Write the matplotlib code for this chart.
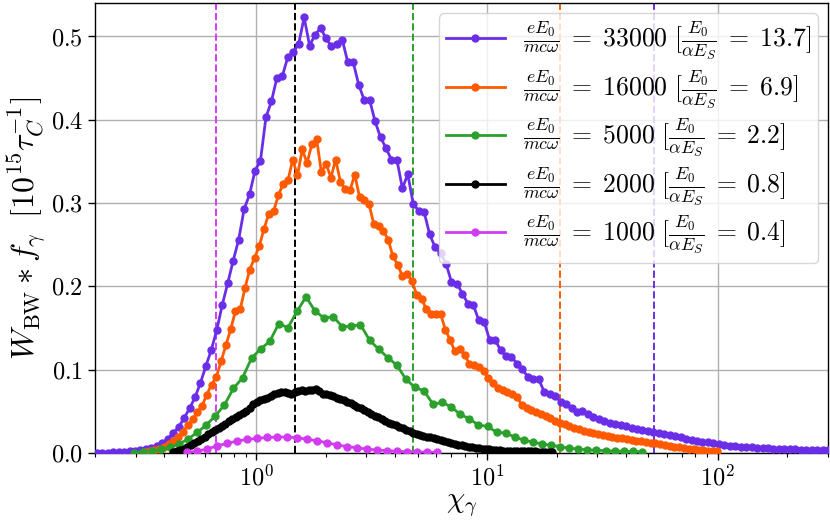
import numpy as np
import matplotlib
matplotlib.use("Agg")
import matplotlib.pyplot as plt

plt.rcParams['mathtext.fontset'] = 'cm'
plt.rcParams['font.family'] = 'serif'
plt.rcParams['font.serif'] = ['cmr10', 'DejaVu Serif']
plt.rcParams['axes.formatter.use_mathtext'] = True

# ---- data ----
labels = [
    r'$\frac{eE_0}{mc\omega}\;=\;33000\ [\frac{E_0}{\alpha E_S}\;=\;13.7]$',
    r'$\frac{eE_0}{mc\omega}\;=\;16000\ [\frac{E_0}{\alpha E_S}\;=\;6.9]$',
    r'$\frac{eE_0}{mc\omega}\;=\;5000\ [\frac{E_0}{\alpha E_S}\;=\;2.2]$',
    r'$\frac{eE_0}{mc\omega}\;=\;2000\ [\frac{E_0}{\alpha E_S}\;=\;0.8]$',
    r'$\frac{eE_0}{mc\omega}\;=\;1000\ [\frac{E_0}{\alpha E_S}\;=\;0.4]$',
]
colors = ['#6a2ee8', '#ff5a00', '#2ca02c', '#000000', '#d23cf0']

# chi grids (log-spaced bins): (first, last, count)
grid_33000 = (0.2035, 300.2, 135)
grid_16000 = (0.3286, 99.6, 121)
grid_5000 = (0.2939, 46.85, 57)
grid_2000 = (0.437, 19.11, 110)
grid_1000 = (0.501, 6.06, 26)

y_33000 = [
    0.0002, 0.0003, 0.0005, 0.0007, 0.0010, 0.0014, 0.0019, 0.0026, 0.0034, 0.0046,
    0.0060, 0.0085, 0.0122, 0.0170, 0.0240, 0.0310, 0.0420, 0.0535, 0.0668, 0.0843,
    0.1045, 0.1240, 0.1480, 0.1780, 0.2040, 0.2310, 0.2560, 0.2926, 0.3105, 0.3390,
    0.3510, 0.4030, 0.4220, 0.4500, 0.4525, 0.4750, 0.4810, 0.4910, 0.5230, 0.4890,
    0.5020, 0.5100, 0.4980, 0.4880, 0.4910, 0.4960, 0.4690, 0.4690, 0.4420, 0.4240,
    0.4240, 0.3980, 0.3790, 0.3660, 0.3520, 0.3520, 0.3180, 0.3345, 0.2986, 0.2910,
    0.2890, 0.2626, 0.2470, 0.2400, 0.2275, 0.2054, 0.2035, 0.1915, 0.1795, 0.1780,
    0.1595, 0.1575, 0.1355, 0.1360, 0.1235, 0.1163, 0.1155, 0.1075, 0.1004, 0.0915,
    0.0895, 0.0884, 0.0735, 0.0707, 0.0687, 0.0615, 0.0587, 0.0536, 0.0495, 0.0507,
    0.0468, 0.0435, 0.0404, 0.0384, 0.0365, 0.0350, 0.0335, 0.0320, 0.0305, 0.0292,
    0.0280, 0.0265, 0.0252, 0.0240, 0.0226, 0.0214, 0.0201, 0.0188, 0.0174, 0.0160,
    0.0148, 0.0137, 0.0127, 0.0118, 0.0108, 0.0096, 0.0087, 0.0081, 0.0076, 0.0071,
    0.0067, 0.0063, 0.0059, 0.0056, 0.0053, 0.0050, 0.0048, 0.0046, 0.0044, 0.0042,
    0.0040, 0.0039, 0.0038, 0.0037, 0.0036,
]

y_16000 = [
    0.0018, 0.0026, 0.0038, 0.0054, 0.0074, 0.0104, 0.0144, 0.0195, 0.0255, 0.0335,
    0.0407, 0.0487, 0.0567, 0.0703, 0.0823, 0.0915, 0.1103, 0.1295, 0.1487, 0.1703,
    0.1727, 0.1982, 0.2203, 0.2342, 0.2486, 0.2694, 0.2874, 0.2905, 0.3094, 0.3234,
    0.3273, 0.3521, 0.3333, 0.3645, 0.3481, 0.3705, 0.3773, 0.3373, 0.3473, 0.3306,
    0.3521, 0.3253, 0.3174, 0.3153, 0.3342, 0.3073, 0.3034, 0.2986, 0.2746, 0.2725,
    0.2666, 0.2562, 0.2360, 0.2260, 0.2120, 0.2155, 0.2060, 0.1900, 0.1855, 0.1725,
    0.1675, 0.1675, 0.1667, 0.1480, 0.1355, 0.1220, 0.1255, 0.1180, 0.1075, 0.1055,
    0.1035, 0.0987, 0.0896, 0.0836, 0.0776, 0.0755, 0.0735, 0.0715, 0.0675, 0.0575,
    0.0545, 0.0515, 0.0490, 0.0465, 0.0440, 0.0415, 0.0390, 0.0365, 0.0345, 0.0325,
    0.0305, 0.0285, 0.0268, 0.0252, 0.0238, 0.0226, 0.0215, 0.0205, 0.0195, 0.0186,
    0.0176, 0.0166, 0.0157, 0.0148, 0.0140, 0.0132, 0.0124, 0.0116, 0.0107, 0.0098,
    0.0088, 0.0078, 0.0070, 0.0062, 0.0053, 0.0045, 0.0040, 0.0035, 0.0030, 0.0025,
    0.0020,
]

y_5000 = [
    0.0006, 0.0012, 0.0024, 0.0044, 0.0068, 0.0108, 0.0168, 0.0248, 0.0336, 0.0447,
    0.0576, 0.0776, 0.0903, 0.1140, 0.1250, 0.1340, 0.1555, 0.1505, 0.1700, 0.1875,
    0.1703, 0.1620, 0.1637, 0.1515, 0.1525, 0.1540, 0.1355, 0.1247, 0.1147, 0.1055,
    0.0887, 0.0788, 0.0747, 0.0584, 0.0610, 0.0552, 0.0465, 0.0410, 0.0336, 0.0320,
    0.0250, 0.0240, 0.0192, 0.0156, 0.0130, 0.0110, 0.0093, 0.0077, 0.0058, 0.0049,
    0.0038, 0.0035, 0.0029, 0.0025, 0.0021, 0.0019, 0.0016,
]

y_2000 = [
    0.0010, 0.0020, 0.0034, 0.0052, 0.0074, 0.0098, 0.0122, 0.0146, 0.0172, 0.0198,
    0.0224, 0.0250, 0.0276, 0.0302, 0.0328, 0.0354, 0.0380, 0.0406, 0.0430, 0.0456,
    0.0482, 0.0510, 0.0545, 0.0585, 0.0618, 0.0635, 0.0648, 0.0660, 0.0684, 0.0712,
    0.0722, 0.0728, 0.0730, 0.0725, 0.0715, 0.0730, 0.0750, 0.0752, 0.0748, 0.0755,
    0.0762, 0.0775, 0.0740, 0.0712, 0.0705, 0.0700, 0.0690, 0.0660, 0.0652, 0.0640,
    0.0618, 0.0598, 0.0580, 0.0558, 0.0535, 0.0512, 0.0488, 0.0465, 0.0448, 0.0428,
    0.0408, 0.0387, 0.0366, 0.0348, 0.0332, 0.0318, 0.0300, 0.0280, 0.0260, 0.0245,
    0.0230, 0.0217, 0.0207, 0.0197, 0.0187, 0.0176, 0.0165, 0.0155, 0.0145, 0.0135,
    0.0122, 0.0110, 0.0100, 0.0092, 0.0085, 0.0078, 0.0072, 0.0066, 0.0060, 0.0054,
    0.0049, 0.0044, 0.0040, 0.0036, 0.0033, 0.0030, 0.0028, 0.0026, 0.0024, 0.0023,
    0.0022, 0.0021, 0.0020, 0.0020, 0.0019, 0.0018, 0.0017, 0.0016, 0.0016, 0.0015,
]

y_1000 = [
    0.0008, 0.0022, 0.0048, 0.0086, 0.0116, 0.0144, 0.0164, 0.0176, 0.0187, 0.0192,
    0.0192, 0.0185, 0.0166, 0.0148, 0.0124, 0.0098, 0.0078, 0.0064, 0.0048, 0.0037,
    0.0029, 0.0021, 0.0016, 0.0013, 0.0010, 0.0008,
]

# characteristic chi for each run (vertical dashed lines)
chi_marks = [52.7, 20.6, 4.77, 1.476, 0.671]

grids = [grid_33000, grid_16000, grid_5000, grid_2000, grid_1000]
ys = [y_33000, y_16000, y_5000, y_2000, y_1000]

fig = plt.figure(figsize=(8.3, 5.25), dpi=100)
ax = fig.add_axes([0.1145, 0.137, 0.883, 0.857])

for (a, b, n), y, c, lab in zip(grids, ys, colors, labels):
    x = np.geomspace(a, b, n)
    ax.plot(x, y, '-o', color=c, lw=2.0, ms=5, label=lab, zorder=3)

for xm, c in zip(chi_marks, colors):
    ax.axvline(xm, color=c, ls='--', lw=1.4, zorder=2)

ax.set_xscale('log')
ax.set_xlim(0.2, 300)
ax.set_ylim(0, 0.54)
ax.set_yticks([0.0, 0.1, 0.2, 0.3, 0.4, 0.5])
ax.grid(True, which='major', color='#b0b0b0', lw=1.0, zorder=0)
ax.set_axisbelow(True)
ax.tick_params(labelsize=17.5, length=5, width=1)
ax.tick_params(which='minor', length=3, width=0.8)
ax.set_xlabel(r'$\chi_\gamma$', fontsize=21, labelpad=1)
ax.set_ylabel(r'$W_{\mathrm{BW}} \ast f_\gamma\;\;[10^{15}\tau_C^{-1}]$', fontsize=23, labelpad=2)
for s in ax.spines.values():
    s.set_linewidth(1.0)

leg = ax.legend(loc='upper right', fontsize=18.5, handlelength=2.3,
                handletextpad=0.7, framealpha=0.8, borderaxespad=0.4,
                labelspacing=0.25, borderpad=0.25)

fig.savefig('out.png', dpi=100)
